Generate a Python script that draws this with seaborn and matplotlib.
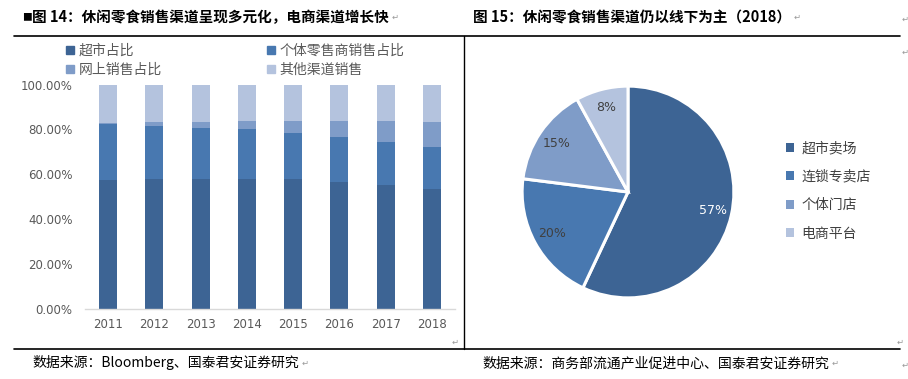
import matplotlib
matplotlib.use("Agg")
import matplotlib.pyplot as plt
from matplotlib.lines import Line2D
import seaborn as sns
import pandas as pd
import numpy as np

sns.set_theme(style="white")
plt.rcParams['font.family'] = ['Noto Sans CJK SC', 'DejaVu Sans']

# ---- data ----
years = ['2011', '2012', '2013', '2014', '2015', '2016', '2017', '2018']
supermarket = [57.6, 58.0, 58.0, 58.0, 58.0, 56.7, 55.4, 53.6]
individual = [25.0, 23.7, 22.8, 22.4, 20.6, 20.1, 19.2, 18.7]
online = [0.4, 1.8, 2.7, 3.5, 5.3, 7.1, 9.3, 11.2]
other = [17.0, 16.5, 16.5, 16.1, 16.1, 16.1, 16.1, 16.5]
bar_series = ['超市占比', '个体零售商销售占比', '网上销售占比', '其他渠道销售']

pie_labels = ['超市卖场', '连锁专卖店', '个体门店', '电商平台']
pie_values = [57, 20, 15, 8]

title_left = '图 14：休闲零食销售渠道呈现多元化，电商渠道增长快'
title_right = '图 15：休闲零食销售渠道仍以线下为主（2018）'
source_left = '数据来源：Bloomberg、国泰君安证券研究'
source_right = '数据来源：商务部流通产业促进中心、国泰君安证券研究'

colors = ['#3D6494', '#4878B0', '#7F9CC8', '#B4C3DE']

W, H = 908, 379
fig = plt.figure(figsize=(W / 100, H / 100), dpi=100)

def fx(px):
    return px / W

def fy(py):
    return 1 - py / H

# ---- frame lines ----
fig.add_artist(Line2D([fx(14), fx(900)], [fy(36), fy(36)], color='black', lw=1.2))
fig.add_artist(Line2D([fx(14), fx(900)], [fy(349), fy(349)], color='black', lw=1.2))
fig.add_artist(Line2D([fx(463.5), fx(463.5)], [fy(36), fy(349)], color='black', lw=1.0))

# ---- titles ----
fig.text(fx(22), fy(17), '■', fontsize=7, va='center', ha='left', color='black')
texts_with_marks = []
texts_with_marks.append(fig.text(fx(32), fy(17), title_left, fontsize=10.5, fontweight='bold', va='center', ha='left', color='black'))
texts_with_marks.append(fig.text(fx(473), fy(17), title_right, fontsize=10.5, fontweight='bold', va='center', ha='left', color='black'))
texts_with_marks.append(fig.text(fx(32), fy(363), source_left, fontsize=10, va='center', ha='left', color='black'))
texts_with_marks.append(fig.text(fx(482), fy(363), source_right, fontsize=10, va='center', ha='left', color='black'))
for (x, y) in [(905, 19), (905, 52), (455, 342), (900, 342), (905, 365)]:
    fig.text(fx(x), fy(y), '↵', fontsize=6, color='#999999', va='center', ha='center', family=['DejaVu Sans'])

# ---- stacked bar chart ----
ax = fig.add_axes([fx(85), fy(308.7), fx(455) - fx(85), fy(84.7) - fy(308.7)])
cum = np.cumsum(np.array([supermarket, individual, online, other]), axis=0)
for i in range(3, -1, -1):
    d = pd.DataFrame({'year': years, 'val': cum[i]})
    sns.barplot(data=d, x='year', y='val', color=colors[i], width=0.39,
                saturation=1, ax=ax, edgecolor='none', linewidth=0)
ax.set_ylim(0, 100)
ax.set_xlim(-0.5, 7.5)
ax.set_yticks([0, 20, 40, 60, 80, 100])
ax.set_yticklabels([f'{v:.2f}%' for v in [0, 20, 40, 60, 80, 100]])
ax.set_xlabel('')
ax.set_ylabel('')
for s in ['top', 'right', 'left']:
    ax.spines[s].set_visible(False)
ax.spines['bottom'].set_color('#D9D9D9')
ax.spines['bottom'].set_linewidth(1)
ax.tick_params(axis='both', length=0, colors='#595959', labelsize=8.5)
ax.tick_params(axis='y', pad=9)
ax.tick_params(axis='x', pad=7)
for t in ax.get_yticklabels() + ax.get_xticklabels():
    t.set_family(['DejaVu Sans'])
ax.grid(False)
ax.set_facecolor('none')

handles = [Line2D([], [], marker='s', linestyle='none', markersize=5.5, color=colors[i]) for i in range(4)]
order = [0, 2, 1, 3]
leg = fig.legend([handles[i] for i in order], [bar_series[i] for i in order],
                 ncol=2, loc='upper left', bbox_to_anchor=(fx(66), fy(44)),
                 frameon=False, fontsize=10, handlelength=0.6, handletextpad=0.3,
                 columnspacing=7.6, labelspacing=0.35, borderaxespad=0, borderpad=0)
for t in leg.get_texts():
    t.set_color('#595959')

# ---- pie chart ----
r = 108
cx, cy = 628, 192
pax = fig.add_axes([fx(cx - r), fy(cy + r), fx(2 * r), fy(cy - r) - fy(cy + r)])
wedges, texts, autotexts = pax.pie(pie_values, colors=colors, startangle=90, counterclock=False,
                                   autopct=lambda p: f'{p:.0f}%', pctdistance=0.82,
                                   wedgeprops=dict(edgecolor='white', linewidth=2.2),
                                   textprops=dict(fontsize=9, color='#404040'))
for i, t in enumerate(autotexts):
    t.set_family(['DejaVu Sans'])
    t.set_color('white' if i == 0 else '#404040')
pax.set_xlim(-1.02, 1.02)
pax.set_ylim(-1.02, 1.02)
pax.set_aspect('equal')

pleg = fig.legend(wedges, pie_labels, loc='upper left', bbox_to_anchor=(fx(786), fy(141)),
                  frameon=False, fontsize=10, handlelength=0.6, handleheight=0.6, handletextpad=0.5,
                  labelspacing=1.05, borderaxespad=0, borderpad=0)
for t in pleg.get_texts():
    t.set_color('#404040')
for p in pleg.get_patches():
    p.set_edgecolor('none')

# paragraph marks placed right after the texts
fig.canvas.draw()
renderer = fig.canvas.get_renderer()
for t in texts_with_marks:
    bb = t.get_window_extent(renderer)
    xm = (bb.x1 + 6) / W
    ym = t.get_position()[1]
    fig.text(xm, ym, '↵', fontsize=6, color='#999999', va='center', ha='center', family=['DejaVu Sans'])

fig.savefig('out.png', dpi=100, facecolor='white')
